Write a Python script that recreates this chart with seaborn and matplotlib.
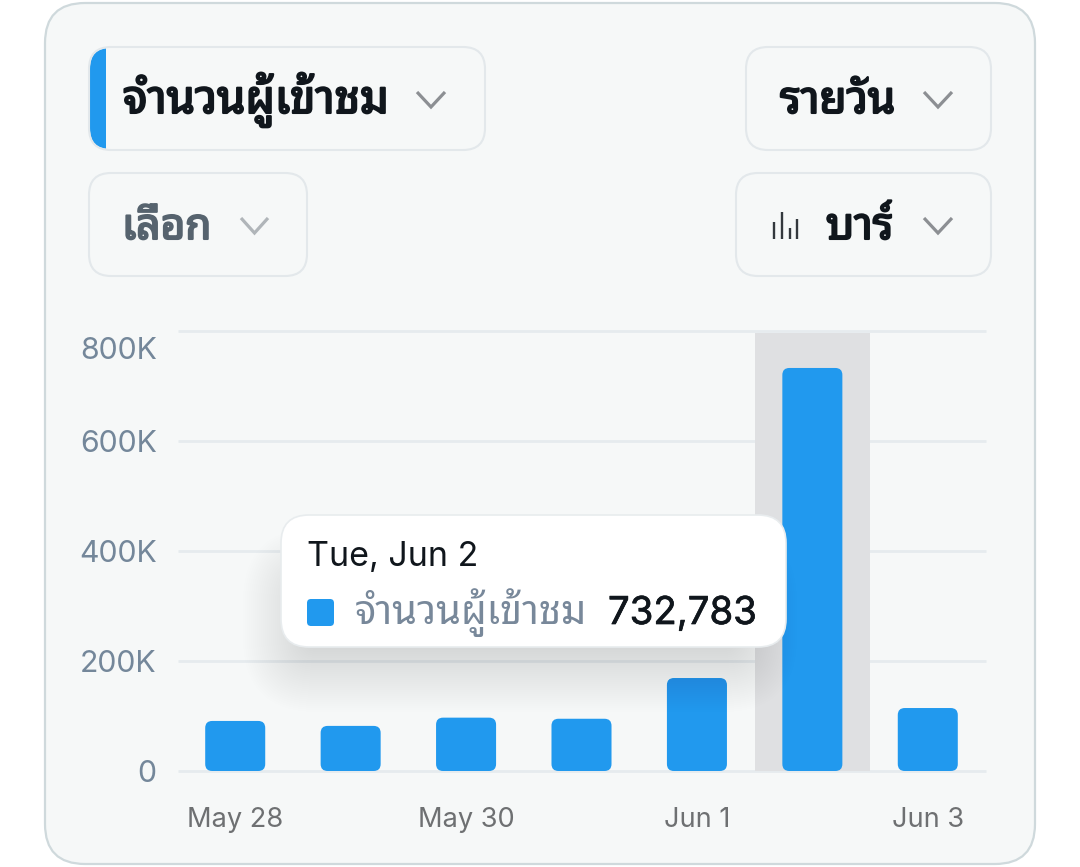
# Daily visitors bar chart card (Thai UI)

import matplotlib
matplotlib.use("Agg")
import matplotlib.pyplot as plt
import matplotlib.patheffects as pe
from matplotlib.patches import FancyBboxPatch, Rectangle
from matplotlib.transforms import ScaledTranslation
import seaborn as sns

# ------------------------------------
# Data
# ------------------------------------

dates = ["May 28", "May 29", "May 30", "May 31", "Jun 1", "Jun 2", "Jun 3"]
visitors = [91000, 82000, 97000, 95000, 169000, 732783, 114500]
y_ticks = [0, 200000, 400000, 600000, 800000]
y_labels = ["0", "200K", "400K", "600K", "800K"]
x_ticks = [0, 2, 4, 6]
x_labels = ["May 28", "May 30", "Jun 1", "Jun 3"]

metric_label = "จำนวนผู้เข้าชม"
period_label = "รายวัน"
select_label = "เลือก"
type_label = "บาร์"
tooltip_date = "Tue, Jun 2"
tooltip_value = "732,783"

BLUE = "#2199EE"
CARD = "#F6F8F8"
DARK = "#10161C"
THAI = ["Noto Sans Thai Looped", "Inter"]

W, H = 1080, 867

sns.set_theme(style="white")
plt.rcParams["font.family"] = ["Inter", "Noto Sans Thai Looped"]

fig = plt.figure(figsize=(W / 100, H / 100), dpi=100, facecolor="white")

# ------------------------------------
# Pixel layers for the card and the overlay
# ------------------------------------


def pixel_axes(zorder):
    a = fig.add_axes([0, 0, 1, 1], zorder=zorder)
    a.set_xlim(0, W)
    a.set_ylim(H, 0)
    a.axis("off")
    a.patch.set_alpha(0)
    return a


def rounded(a, x0, y0, x1, y1, r, **kw):
    box = FancyBboxPatch((x0, y0), x1 - x0, y1 - y0,
                         boxstyle=f"round,pad=0,rounding_size={r}", **kw)
    a.add_patch(box)
    return box


def chevron(a, x0, x1, y0, y1, color):
    a.plot([x0, (x0 + x1) / 2, x1], [y0, y1, y0], color=color, lw=2.3,
           solid_capstyle="butt", solid_joinstyle="miter")


def bold_text(a, x, y, s, size, color):
    a.text(x, y, s, fontsize=size, color=color, family=THAI, va="baseline",
           path_effects=[pe.withStroke(linewidth=1.5, foreground=color)])


back = pixel_axes(0)
rounded(back, 45, 3, 1035, 864, 40, fc=CARD, ec="#CFD9DC", lw=1.6)

# blue strip on the first pill
rounded(back, 90, 48, 140, 149, 20, fc=BLUE, ec="none")
back.add_patch(Rectangle((106, 46), 40, 105, fc=CARD, ec="none"))

for x0, y0, x1, y1 in [(89, 47, 485, 150), (746, 47, 991, 150),
                       (89, 173, 307, 276), (736, 173, 991, 276)]:
    rounded(back, x0, y0, x1, y1, 22, fc="none", ec="#E3E8EB", lw=1.5)

bold_text(back, 123, 113, metric_label, 32.8, DARK)
bold_text(back, 122, 239, select_label, 30.5, "#56636E")
bold_text(back, 780, 113, period_label, 31.8, DARK)
bold_text(back, 826, 239, type_label, 31.5, DARK)

chevron(back, 417, 445, 92, 107, "#8C8F93")
chevron(back, 241, 268, 218, 233, "#B0B5B9")
chevron(back, 924, 952, 92, 107, "#8C8F93")
chevron(back, 924, 952, 218, 233, "#8C8F93")

# small bar chart icon
for ix, itop in [(774, 222), (781.5, 212), (789.5, 228), (797, 219)]:
    back.plot([ix, ix], [itop, 239], color="#33383D", lw=1.7, solid_capstyle="butt")

# ------------------------------------
# Bar chart
# ------------------------------------

ax = fig.add_axes([177.5 / W, 1 - 771 / H, 808 / W, 440 / H], zorder=1)
ax.patch.set_alpha(0)

sns.barplot(x=dates, y=visitors, color=BLUE, width=0.52, saturation=1, ax=ax)

ax.set_xlim(-0.5, 6.5)
ax.set_ylim(0, 800000)
ax.set_xticks(x_ticks, x_labels)
ax.set_yticks(y_ticks, y_labels)
sns.despine(ax=ax, left=True, bottom=True, top=True, right=True)

ax.set_axisbelow(True)
ax.grid(axis="y", color="#E6EBEE", lw=2.0)
for line in ax.get_ygridlines():
    line.set_clip_on(False)
    line.set_solid_capstyle("butt")

ax.tick_params(axis="x", length=0, pad=26, labelsize=19.6, labelcolor="#6E7072")
ax.tick_params(axis="y", length=0, pad=15, labelsize=21.8, labelcolor="#74879A")

# top label sits below its grid line
top_label = ax.get_yticklabels()[-1]
top_label.set_transform(top_label.get_transform()
                        + ScaledTranslation(0, -17 / 100, fig.dpi_scale_trans))

# highlight band behind the hovered day
ax.axvspan(4.5, 5.5, ymin=0, ymax=0.995, color="#DFE0E2", lw=0, zorder=1)

# swap the square bars for rounded ones, same size and place
px_y = 800000 / 440
px_x = 7 / 808
for bar in list(ax.patches):
    if bar.get_height() in visitors:
        rr = 7 * px_x
        ax.add_patch(FancyBboxPatch((bar.get_x(), bar.get_y()), bar.get_width(), bar.get_height(),
                                    boxstyle=f"round,pad=0,rounding_size={rr}",
                                    mutation_aspect=px_y / px_x,
                                    fc=BLUE, ec="none", zorder=2, clip_on=False))
        bar.remove()

# ------------------------------------
# Tooltip
# ------------------------------------

over = pixel_axes(2)

# soft shadow, stacked layers, mostly below the box
for i in range(44):
    grow = 62 - i * 2.0
    rounded(over, 305 - grow, 590 - grow, 735 + grow, 650 + grow, max(grow + 12, 4),
            fc="#20303A", ec="none", alpha=0.0042)

rounded(over, 281, 515, 786, 647, 28, fc="white", ec="#E8ECEE", lw=1.2)

over.text(307, 566, tooltip_date, fontsize=24.5, color=DARK, va="baseline")
rounded(over, 307, 599, 334, 626, 4, fc=BLUE, ec="none")
over.text(355, 624, metric_label, fontsize=28.7, color="#78889A", family=THAI, va="baseline")
over.text(608, 624, tooltip_value, fontsize=27.6, color=DARK, va="baseline",
          path_effects=[pe.withStroke(linewidth=0.5, foreground=DARK)])

fig.savefig("out.png", dpi=100)
